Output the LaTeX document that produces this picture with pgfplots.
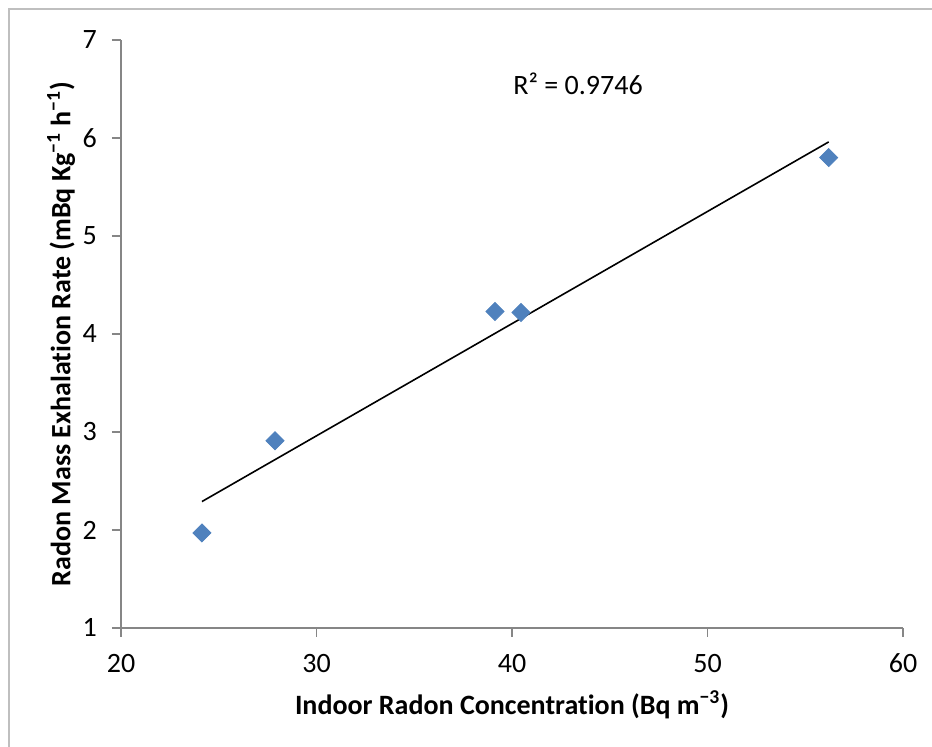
\documentclass[border=0pt]{standalone}
\usepackage{fontspec}
\setmainfont{Carlito}[Ligatures=NoCommon]
\usepackage{pgfplots}
\pgfplotsset{compat=1.18}

\definecolor{markblue}{HTML}{4F81BD}
\definecolor{axisgray}{HTML}{868686}
\definecolor{framegray}{HTML}{BFBFBF}

\begin{document}
\begin{tikzpicture}
% page is 932x747 px at 0.5pt per px
\useasboundingbox (0,0) rectangle (466pt,373.5pt);
\draw[framegray, line width=0.7pt] (4.5pt,0) -- (4.5pt,369pt) -- (466pt,369pt);

\begin{axis}[
    at={(60.5pt,59.5pt)}, anchor=south west,
    scale only axis,
    width=391pt, height=294pt,
    xmin=20, xmax=60, ymin=1, ymax=7,
    xtick={20,30,...,60}, ytick={1,2,...,7},
    axis x line*=bottom, axis y line*=left,
    axis line style={axisgray, line width=0.7pt, -},
    tick style={axisgray, line width=0.7pt},
    tick align=outside, major tick length=4.5pt,
    minor tick num=0,
    ticklabel style={font=\fontsize{14}{16}\selectfont},
    /pgf/number format/assume math mode=true,
    xticklabel style={yshift=-5pt},
    yticklabel style={xshift=-4pt},
    xlabel={\bfseries Indoor Radon Concentration (Bq m\textsuperscript{\textminus3})},
    ylabel={\bfseries Radon Mass Exhalation Rate (mBq Kg\textsuperscript{\textminus1} h\textsuperscript{\textminus1})},
    label style={font=\fontsize{14}{16}\selectfont},
    xlabel style={yshift=-2pt},
    ylabel style={yshift=-3pt},
    clip=false,
]
% linear trend line, endpoints
\addplot[black, line width=0.8pt, no marks] coordinates {
    (24.14,2.29) (56.2,5.96)
};
\addplot[only marks, mark=square*, mark size=3.2pt,
    mark options={rotate=45, fill=markblue, draw=markblue}] coordinates {
    (24.14,1.97) (27.88,2.91) (39.13,4.23) (40.46,4.22) (56.2,5.80)
};
\node[font=\fontsize{14}{16}\selectfont] at (axis cs:43.38,6.55) {R² = 0.9746};
\end{axis}
\end{tikzpicture}
\end{document}
